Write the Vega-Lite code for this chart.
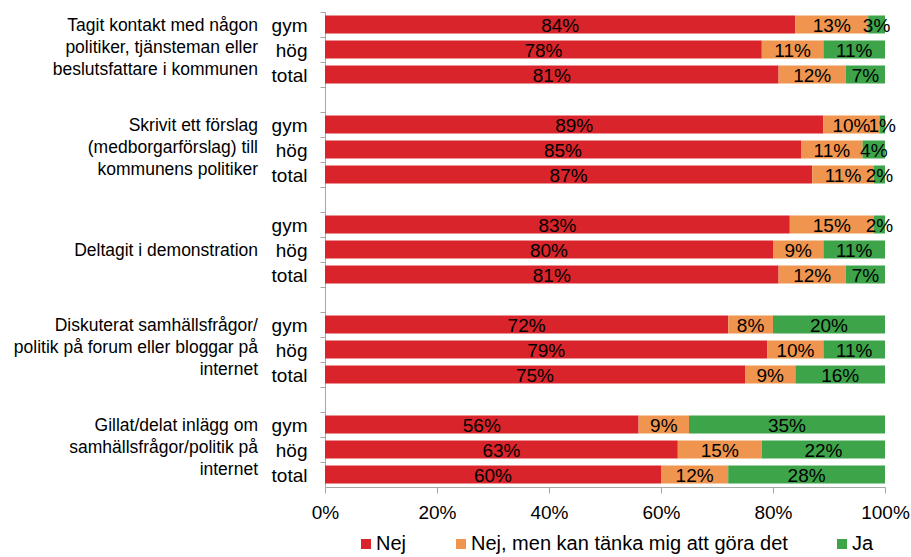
{
  "$schema": "https://vega.github.io/schema/vega-lite/v6.json",
  "width": 560,
  "height": 475,
  "autosize": {"type": "none"},
  "padding": {"left": 325, "top": 12, "right": 26, "bottom": 70},
  "background": "white",
  "config": {
    "view": {"stroke": null},
    "font": "Liberation Sans",
    "text": {"font": "Liberation Sans"}
  },
  "datasets": {
    "bars": [
      {"slot": "1|gym", "answer": "Nej", "rank": 1, "value": 0.84},
      {"slot": "1|gym", "answer": "Nej, men kan tänka mig att göra det", "rank": 2, "value": 0.13},
      {"slot": "1|gym", "answer": "Ja", "rank": 3, "value": 0.03},
      {"slot": "1|hög", "answer": "Nej", "rank": 1, "value": 0.78},
      {"slot": "1|hög", "answer": "Nej, men kan tänka mig att göra det", "rank": 2, "value": 0.11},
      {"slot": "1|hög", "answer": "Ja", "rank": 3, "value": 0.11},
      {"slot": "1|total", "answer": "Nej", "rank": 1, "value": 0.81},
      {"slot": "1|total", "answer": "Nej, men kan tänka mig att göra det", "rank": 2, "value": 0.12},
      {"slot": "1|total", "answer": "Ja", "rank": 3, "value": 0.07},
      {"slot": "2|gym", "answer": "Nej", "rank": 1, "value": 0.89},
      {"slot": "2|gym", "answer": "Nej, men kan tänka mig att göra det", "rank": 2, "value": 0.10},
      {"slot": "2|gym", "answer": "Ja", "rank": 3, "value": 0.01},
      {"slot": "2|hög", "answer": "Nej", "rank": 1, "value": 0.85},
      {"slot": "2|hög", "answer": "Nej, men kan tänka mig att göra det", "rank": 2, "value": 0.11},
      {"slot": "2|hög", "answer": "Ja", "rank": 3, "value": 0.04},
      {"slot": "2|total", "answer": "Nej", "rank": 1, "value": 0.87},
      {"slot": "2|total", "answer": "Nej, men kan tänka mig att göra det", "rank": 2, "value": 0.11},
      {"slot": "2|total", "answer": "Ja", "rank": 3, "value": 0.02},
      {"slot": "3|gym", "answer": "Nej", "rank": 1, "value": 0.83},
      {"slot": "3|gym", "answer": "Nej, men kan tänka mig att göra det", "rank": 2, "value": 0.15},
      {"slot": "3|gym", "answer": "Ja", "rank": 3, "value": 0.02},
      {"slot": "3|hög", "answer": "Nej", "rank": 1, "value": 0.80},
      {"slot": "3|hög", "answer": "Nej, men kan tänka mig att göra det", "rank": 2, "value": 0.09},
      {"slot": "3|hög", "answer": "Ja", "rank": 3, "value": 0.11},
      {"slot": "3|total", "answer": "Nej", "rank": 1, "value": 0.81},
      {"slot": "3|total", "answer": "Nej, men kan tänka mig att göra det", "rank": 2, "value": 0.12},
      {"slot": "3|total", "answer": "Ja", "rank": 3, "value": 0.07},
      {"slot": "4|gym", "answer": "Nej", "rank": 1, "value": 0.72},
      {"slot": "4|gym", "answer": "Nej, men kan tänka mig att göra det", "rank": 2, "value": 0.08},
      {"slot": "4|gym", "answer": "Ja", "rank": 3, "value": 0.20},
      {"slot": "4|hög", "answer": "Nej", "rank": 1, "value": 0.79},
      {"slot": "4|hög", "answer": "Nej, men kan tänka mig att göra det", "rank": 2, "value": 0.10},
      {"slot": "4|hög", "answer": "Ja", "rank": 3, "value": 0.11},
      {"slot": "4|total", "answer": "Nej", "rank": 1, "value": 0.75},
      {"slot": "4|total", "answer": "Nej, men kan tänka mig att göra det", "rank": 2, "value": 0.09},
      {"slot": "4|total", "answer": "Ja", "rank": 3, "value": 0.16},
      {"slot": "5|gym", "answer": "Nej", "rank": 1, "value": 0.56},
      {"slot": "5|gym", "answer": "Nej, men kan tänka mig att göra det", "rank": 2, "value": 0.09},
      {"slot": "5|gym", "answer": "Ja", "rank": 3, "value": 0.35},
      {"slot": "5|hög", "answer": "Nej", "rank": 1, "value": 0.63},
      {"slot": "5|hög", "answer": "Nej, men kan tänka mig att göra det", "rank": 2, "value": 0.15},
      {"slot": "5|hög", "answer": "Ja", "rank": 3, "value": 0.22},
      {"slot": "5|total", "answer": "Nej", "rank": 1, "value": 0.60},
      {"slot": "5|total", "answer": "Nej, men kan tänka mig att göra det", "rank": 2, "value": 0.12},
      {"slot": "5|total", "answer": "Ja", "rank": 3, "value": 0.28}
    ],
    "questions": [
      {"slot": "1|gym", "label": "Tagit kontakt med någon\npolitiker, tjänsteman eller\nbeslutsfattare i kommunen"},
      {"slot": "2|gym", "label": "Skrivit ett förslag\n(medborgarförslag) till\nkommunens politiker"},
      {"slot": "3|hög", "label": "Deltagit i demonstration"},
      {"slot": "4|gym", "label": "Diskuterat samhällsfrågor/\npolitik på forum eller bloggar på\ninternet"},
      {"slot": "5|gym", "label": "Gillat/delat inlägg om\nsamhällsfrågor/politik på\ninternet"}
    ]
  },
  "encoding": {
    "y": {
      "field": "slot",
      "type": "nominal",
      "scale": {
        "domain": ["1|gym", "1|hög", "1|total", "1|gap",
                   "2|gym", "2|hög", "2|total", "2|gap",
                   "3|gym", "3|hög", "3|total", "3|gap",
                   "4|gym", "4|hög", "4|total", "4|gap",
                   "5|gym", "5|hög", "5|total"],
        "paddingInner": 0.28,
        "paddingOuter": 0.14
      },
      "axis": {
        "title": null,
        "labelExpr": "indexof(datum.value, 'gap') >= 0 ? '' : split(datum.value, '|')[1]",
        "domainColor": "#A6A6A6",
        "tickColor": "#A6A6A6",
        "tickSize": 5,
        "tickOffset": -12.5,
        "labelOffset": 13.5,
        "labelPadding": 13,
        "labelFont": "Liberation Sans",
        "labelFontSize": 19,
        "labelColor": "#000000",
        "labelBaseline": "middle"
      }
    }
  },
  "layer": [
    {
      "data": {"name": "bars"},
      "mark": {"type": "bar"},
      "encoding": {
        "x": {
          "field": "value",
          "type": "quantitative",
          "stack": "zero",
          "scale": {"domain": [0, 1], "nice": false},
          "axis": {
            "title": null,
            "values": [0, 0.2, 0.4, 0.6, 0.8, 1],
            "format": ".0%",
            "grid": false,
            "domainColor": "#A6A6A6",
            "tickColor": "#A6A6A6",
            "tickSize": 6,
            "labelPadding": 10,
            "labelFont": "Liberation Sans",
            "labelFontSize": 19,
            "labelColor": "#000000",
            "labelFlush": false
          }
        },
        "order": {"field": "rank", "type": "quantitative"},
        "color": {
          "field": "answer",
          "type": "nominal",
          "scale": {
            "domain": ["Nej", "Nej, men kan tänka mig att göra det", "Ja"],
            "range": ["#D9242B", "#F0954F", "#3DA44A"]
          },
          "legend": {
            "title": null,
            "orient": "none",
            "direction": "horizontal",
            "legendX": 31,
            "legendY": 522,
            "symbolType": "square",
            "symbolSize": 100,
            "symbolStrokeWidth": 0,
            "symbolOpacity": 1,
            "labelFont": "Liberation Sans",
            "labelFontSize": 20,
            "labelColor": "#000000",
            "labelOffset": 0,
            "labelLimit": 400,
            "columnPadding": 44
          }
        }
      }
    },
    {
      "data": {"name": "bars"},
      "mark": {"type": "text", "fontSize": 19, "color": "#000000", "baseline": "middle", "align": "center", "dy": 1},
      "encoding": {
        "x": {"field": "value", "type": "quantitative", "stack": "zero", "bandPosition": 0.5},
        "order": {"field": "rank", "type": "quantitative"},
        "detail": {"field": "answer", "type": "nominal"},
        "text": {"field": "value", "type": "quantitative", "format": ".0%"}
      }
    },
    {
      "data": {"name": "questions"},
      "mark": {"type": "text", "fontSize": 17.5, "color": "#000000", "align": "right", "baseline": "middle", "lineBreak": "\n", "lineHeight": 22, "dx": -67, "dy": 1.5},
      "encoding": {
        "x": {"datum": 0, "type": "quantitative"},
        "text": {"field": "label", "type": "nominal"}
      }
    }
  ]
}
